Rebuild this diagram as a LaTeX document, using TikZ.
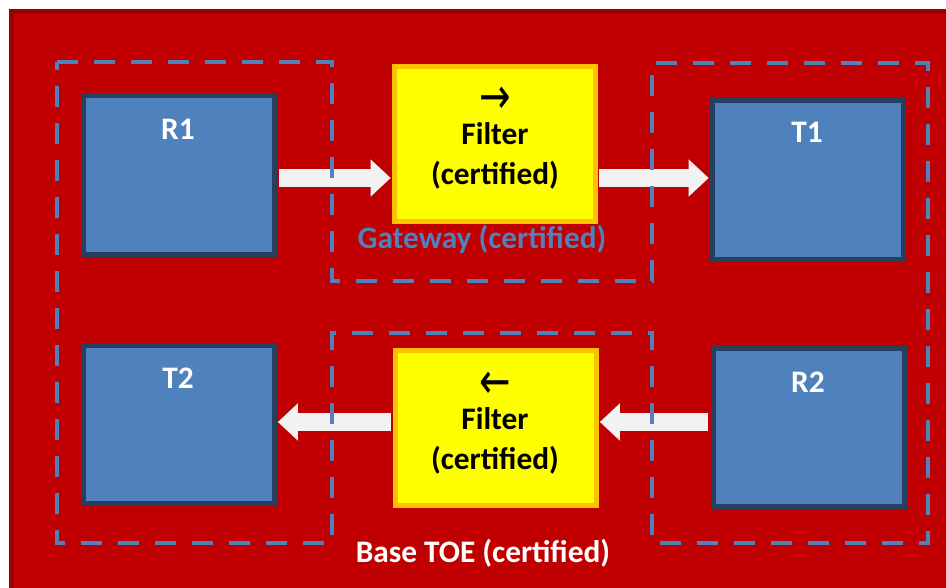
\documentclass[tikz,border=0pt]{standalone}
\usepackage{graphicx}
\usepackage{fontspec}
\setmainfont{Carlito}
\newfontfamily\arrowfont{DejaVu Sans}
\usetikzlibrary{arrows.meta}
\definecolor{bgred}{RGB}{192,0,0}
\definecolor{bgedge}{RGB}{153,0,0}
\definecolor{boxblue}{RGB}{79,129,189}
\definecolor{boxedge}{RGB}{37,64,97}
\definecolor{filtyellow}{RGB}{255,255,0}
\definecolor{filtedge}{RGB}{255,192,0}
\definecolor{flowgray}{RGB}{242,242,242}
\newcommand{\dirglyph}[1]{\raisebox{-6.5pt}[0pt][0pt]{\scalebox{1.2}[1.6]{\arrowfont\mdseries #1}}}
\tikzset{
	hostbox/.style={draw=boxedge, fill=boxblue, line width=3.75pt, minimum width=143.25pt, minimum height=118.5pt, inner sep=0pt},
	filterbox/.style={draw=filtedge, fill=filtyellow, line width=3.75pt, minimum width=150.75pt, minimum height=116.25pt, inner sep=0pt},
	zone/.style={draw=boxblue, line width=3.6pt, dash pattern=on 15.75pt off 12pt},
	flow/.style={draw=flowgray, line width=13.5pt, -{Triangle[width=27pt,length=15pt]}},
	bigtext/.style={font=\fontsize{23.5}{30}\selectfont\bfseries, inner sep=0pt, align=center}
}
\begin{document}
\begin{tikzpicture}[x=0.75pt,y=0.75pt,yscale=-1,xscale=1]
	\useasboundingbox (0,0) rectangle (946,588);
	\clip (0,0) rectangle (946,588);

	% Background
	\draw [draw=bgedge, fill=bgred, line width=3.75pt] (11.5,11.5) rectangle (960,600);

	% Hosts
	\node [hostbox] (r1) at (178.5,175) {};
	\node [hostbox] (t1) at (808,180) {};
	\node [hostbox] (t2) at (178.5,424.5) {};
	\node [hostbox] (r2) at (808.5,427.5) {};

	% Filters
	\node [filterbox] (f1) at (495,144) {};
	\node [filterbox] (f2) at (495.5,428) {};

	% Arrow rows
	\coordinate (toprow) at (0,178);
	\coordinate (botrow) at (0,422);

	% Block arrows
	\draw [flow, shorten <=2pt, shorten >=1pt] (r1.east |- toprow) -- (f1.west |- toprow);
	\draw [flow, shorten <=1pt, shorten >=1pt] (f1.east |- toprow) -- (t1.west |- toprow);
	\draw [flow, shorten <=2pt, shorten >=1pt] (r2.west |- botrow) -- (f2.east |- botrow);
	\draw [flow, shorten <=1pt, shorten >=1pt] (f2.west |- botrow) -- (t2.east |- botrow);

	% Dashed zone (base TOE with gateway)
	\draw [zone] (57,62) -- (332,62) -- (332,281) -- (652,281) -- (652,63) -- (928,63)
		-- (928,543) -- (652,543) -- (652,333) -- (332,333) -- (332,543) -- (57,543) -- cycle;

	% Text Nodes
	\node [bigtext, white, anchor=base] (r1txt) at (178,140) {R1};
	\node [bigtext, white, anchor=base] (t1txt) at (807,143) {T1};
	\node [bigtext, white, anchor=base] (t2txt) at (178,388) {T2};
	\node [bigtext, white, anchor=base] (r2txt) at (808,392) {R2};
	\node [bigtext] (f1txt) at (495,147) {\dirglyph{→}\\Filter\\(certified)};
	\node [bigtext] (f2txt) at (495,432) {\dirglyph{←}\\Filter\\(certified)};
	\node [bigtext, text=boxblue, anchor=base] (gwtxt) at (482,248) {Gateway (certified)};
	\node [bigtext, white, anchor=base] (toetxt) at (483,562) {Base TOE (certified)};

\end{tikzpicture}
\end{document}
